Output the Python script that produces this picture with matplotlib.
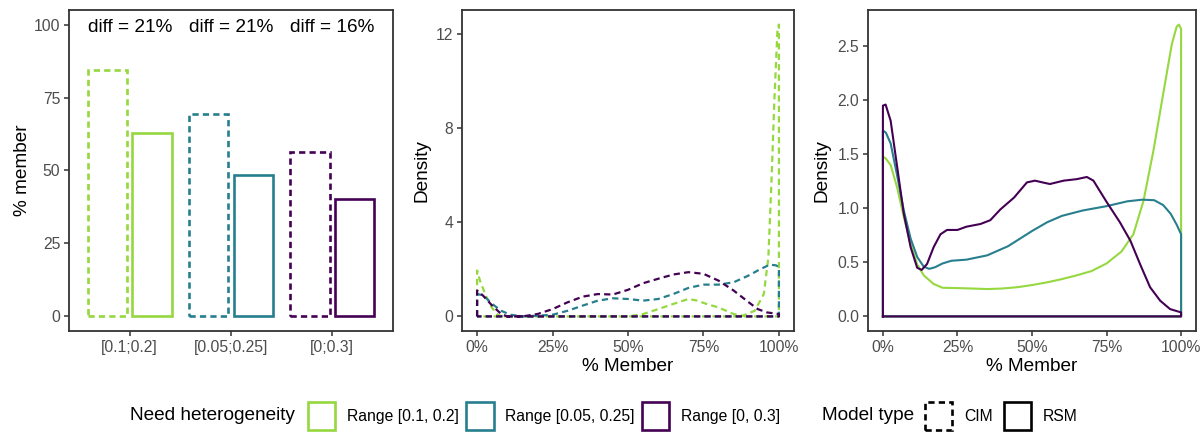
import numpy as np
import matplotlib
matplotlib.use("Agg")
import matplotlib.pyplot as plt
from matplotlib.patches import Patch
from matplotlib.ticker import FuncFormatter

plt.rcParams["font.family"] = ["Liberation Sans", "DejaVu Sans"]
plt.rcParams["lines.scale_dashes"] = False

# ---- data -------------------------------------------------------------
ranges = ["[0.1;0.2]", "[0.05;0.25]", "[0;0.3]"]
range_labels = ["Range [0.1, 0.2]", "Range [0.05, 0.25]", "Range [0, 0.3]"]
colors = ["#95D840", "#277F8E", "#440154"]

cim_pct = [84.3, 69.4, 56.2]
rsm_pct = [62.9, 48.6, 40.4]

# CIM densities (middle panel)
cim_green_x = [0, 0.01, 0.03, 0.05, 0.07, 0.09, 0.2, 0.3, 0.4, 0.5, 0.55, 0.6, 0.65,
               0.7, 0.73, 0.76, 0.8, 0.85, 0.88, 0.92, 0.95, 0.965, 0.975, 0.985,
               0.995, 1.0]
cim_green_y = [1.95, 1.5, 0.85, 0.35, 0.05, 0.0, 0.0, 0.0, 0.0, 0.0, 0.1, 0.31, 0.53,
               0.74, 0.67, 0.53, 0.38, 0.1, 0.03, 0.24, 0.95, 2.5, 5.6, 9.2,
               12.1, 12.4]
cim_teal_x = [0, 0.02, 0.05, 0.08, 0.11, 0.15, 0.2, 0.25, 0.3, 0.35, 0.4, 0.45, 0.5,
              0.55, 0.6, 0.65, 0.7, 0.75, 0.8, 0.85, 0.9, 0.94, 0.97, 0.99, 1.0]
cim_teal_y = [0.95, 0.9, 0.53, 0.24, 0.07, 0.0, 0.03, 0.07, 0.24, 0.46, 0.67, 0.77,
              0.74, 0.67, 0.74, 0.95, 1.21, 1.35, 1.35, 1.45, 1.74, 2.02, 2.2, 2.17, 2.1]
cim_purple_x = [0, 0.02, 0.05, 0.08, 0.1, 0.15, 0.2, 0.25, 0.3, 0.35, 0.4, 0.45, 0.5,
                0.55, 0.6, 0.65, 0.7, 0.75, 0.8, 0.85, 0.9, 0.93, 0.96, 1.0]
cim_purple_y = [1.1, 0.88, 0.46, 0.1, 0.0, 0.0, 0.1, 0.31, 0.6, 0.84, 0.95, 0.93, 1.13,
                1.41, 1.6, 1.78, 1.88, 1.81, 1.52, 1.1, 0.6, 0.31, 0.17, 0.1]

# RSM densities (right panel)
rsm_green_x = [0, 0.01, 0.026, 0.048, 0.07, 0.093, 0.115, 0.137, 0.17, 0.2, 0.25, 0.3,
               0.35, 0.4, 0.45, 0.5, 0.55, 0.6, 0.65, 0.7, 0.75, 0.8, 0.84, 0.874,
               0.907, 0.94, 0.969, 0.985, 0.993, 1.0]
rsm_green_y = [1.48, 1.46, 1.40, 1.19, 0.92, 0.67, 0.48, 0.38, 0.30, 0.265, 0.262,
               0.258, 0.253, 0.258, 0.27, 0.29, 0.315, 0.345, 0.38, 0.42, 0.49, 0.6,
               0.76, 1.07, 1.53, 2.06, 2.52, 2.68, 2.70, 2.66]
rsm_teal_x = [0, 0.01, 0.026, 0.048, 0.07, 0.093, 0.115, 0.137, 0.155, 0.175, 0.2,
              0.23, 0.28, 0.35, 0.42, 0.5, 0.55, 0.6, 0.67, 0.75, 0.82, 0.87, 0.91,
              0.94, 0.965, 0.985, 1.0]
rsm_teal_y = [1.72, 1.70, 1.60, 1.30, 0.98, 0.72, 0.55, 0.46, 0.44, 0.455, 0.49, 0.515,
              0.525, 0.565, 0.65, 0.79, 0.87, 0.93, 0.98, 1.02, 1.065, 1.08, 1.075,
              1.03, 0.95, 0.85, 0.76]
rsm_purple_x = [0, 0.009, 0.026, 0.048, 0.07, 0.093, 0.115, 0.13, 0.148, 0.17, 0.193,
                0.215, 0.25, 0.28, 0.327, 0.36, 0.394, 0.44, 0.483, 0.51, 0.535, 0.56,
                0.606, 0.65, 0.684, 0.706, 0.75, 0.795, 0.83, 0.863, 0.896, 0.93,
                0.963, 1.0]
rsm_purple_y = [1.95, 1.96, 1.81, 1.38, 0.95, 0.64, 0.45, 0.43, 0.485, 0.64, 0.76, 0.80,
                0.80, 0.83, 0.855, 0.89, 0.99, 1.10, 1.24, 1.256, 1.24, 1.225, 1.256,
                1.27, 1.29, 1.256, 1.06, 0.87, 0.70, 0.48, 0.27, 0.145, 0.068, 0.037]

cim_curves = [(cim_green_x, cim_green_y), (cim_teal_x, cim_teal_y),
              (cim_purple_x, cim_purple_y)]
rsm_curves = [(rsm_green_x, rsm_green_y), (rsm_teal_x, rsm_teal_y),
              (rsm_purple_x, rsm_purple_y)]

# ---- style ------------------------------------------------------------
FRAME = "#333333"
TICKLAB = "#4D4D4D"
DASH = (0, (4.5, 3.0))
TICK_FS = 11.3
TITLE_FS = 13.7


def style_axes(ax):
    for sp in ax.spines.values():
        sp.set_color(FRAME)
        sp.set_linewidth(1.3)
    ax.tick_params(colors=FRAME, labelcolor=TICKLAB, labelsize=TICK_FS,
                   length=3.8, width=1.1, pad=2.5)


def draw_density(ax, curves, ls, lw):
    for (xs, ys), c in zip(curves, colors):
        xs = np.asarray(xs)
        ys = np.asarray(ys)
        xo = np.r_[xs[0], xs, xs[-1], xs[0]]
        yo = np.r_[0, ys, 0, 0]
        ax.plot(xo, yo, color=c, lw=lw, linestyle=ls, solid_joinstyle="round")


fig = plt.figure(figsize=(12.03, 4.32), dpi=100)
W, H = 1203, 432


def add_ax(x0, x1, y0=10, y1=331):
    return fig.add_axes([x0 / W, 1 - y1 / H, (x1 - x0) / W, (y1 - y0) / H])


# ---- panel 1: bars ----------------------------------------------------
ax1 = add_ax(69, 393)
xpos = np.arange(len(ranges))
bw = 0.39
off = 0.22
for i, c in enumerate(colors):
    ax1.bar(xpos[i] - off, cim_pct[i], width=bw, facecolor="none", edgecolor=c,
            linewidth=1.9, linestyle=DASH)
    ax1.bar(xpos[i] + off, rsm_pct[i], width=bw, facecolor="none", edgecolor=c,
            linewidth=1.9)
    diff = round(cim_pct[i] - rsm_pct[i])
    ax1.text(xpos[i], 99, f"diff = {diff}%", ha="center", va="center",
             fontsize=TITLE_FS, color="black")
ax1.set_xlim(-0.6, len(ranges) - 0.4)
ax1.set_ylim(-5, 105)
ax1.set_xticks(xpos)
ax1.set_xticklabels(ranges)
ax1.set_yticks([0, 25, 50, 75, 100])
ax1.set_ylabel("% member", fontsize=TITLE_FS, labelpad=2)
style_axes(ax1)

pct_fmt = FuncFormatter(lambda v, p: f"{v * 100:.0f}%")

# ---- panel 2: CIM densities ------------------------------------------
ax2 = add_ax(462, 794)
draw_density(ax2, cim_curves, DASH, 1.6)
ymax2 = max(max(y) for _, y in cim_curves)
ax2.set_ylim(-0.05 * ymax2, 1.05 * ymax2)
ax2.set_xlim(-0.05, 1.05)
ax2.set_yticks([0, 4, 8, 12])
ax2.set_xticks([0, 0.25, 0.5, 0.75, 1.0])
ax2.xaxis.set_major_formatter(pct_fmt)
ax2.set_xlabel("% Member", fontsize=TITLE_FS, labelpad=2)
ax2.set_ylabel("Density", fontsize=TITLE_FS, labelpad=4)
style_axes(ax2)

# ---- panel 3: RSM densities ------------------------------------------
ax3 = add_ax(868, 1196)
draw_density(ax3, rsm_curves, "-", 1.5)
ymax3 = max(max(y) for _, y in rsm_curves)
ax3.set_ylim(-0.05 * ymax3, 1.05 * ymax3)
ax3.set_xlim(-0.05, 1.05)
ax3.set_yticks([0, 0.5, 1.0, 1.5, 2.0, 2.5])
ax3.yaxis.set_major_formatter(FuncFormatter(lambda v, p: f"{v:.1f}"))
ax3.set_xticks([0, 0.25, 0.5, 0.75, 1.0])
ax3.xaxis.set_major_formatter(pct_fmt)
ax3.set_xlabel("% Member", fontsize=TITLE_FS, labelpad=2)
ax3.set_ylabel("Density", fontsize=TITLE_FS, labelpad=5)
style_axes(ax3)

# ---- legends ----------------------------------------------------------
LEG_FS = 11.3
leg_y = 1 - 416 / H
fig.text(130 / W, leg_y, "Need heterogeneity", fontsize=TITLE_FS,
         ha="left", va="center")
h1 = [Patch(facecolor="white", edgecolor=c, linewidth=1.9) for c in colors]
fig.legend(h1, range_labels, loc="center left", bbox_to_anchor=(308 / W, leg_y),
           ncol=3, frameon=False, fontsize=LEG_FS, handlelength=1.75,
           handleheight=2.45, handletextpad=0.75, columnspacing=0.45,
           borderpad=0, borderaxespad=0)

fig.text(822 / W, leg_y, "Model type", fontsize=TITLE_FS, ha="left", va="center")
h2 = [Patch(facecolor="white", edgecolor="black", linewidth=1.9, linestyle=DASH),
      Patch(facecolor="white", edgecolor="black", linewidth=1.9)]
fig.legend(h2, ["CIM", "RSM"], loc="center left", bbox_to_anchor=(925 / W, leg_y),
           ncol=2, frameon=False, fontsize=LEG_FS, handlelength=1.75,
           handleheight=2.45, handletextpad=0.75, columnspacing=0.7,
           borderpad=0, borderaxespad=0)

fig.savefig("out.png", dpi=100)
